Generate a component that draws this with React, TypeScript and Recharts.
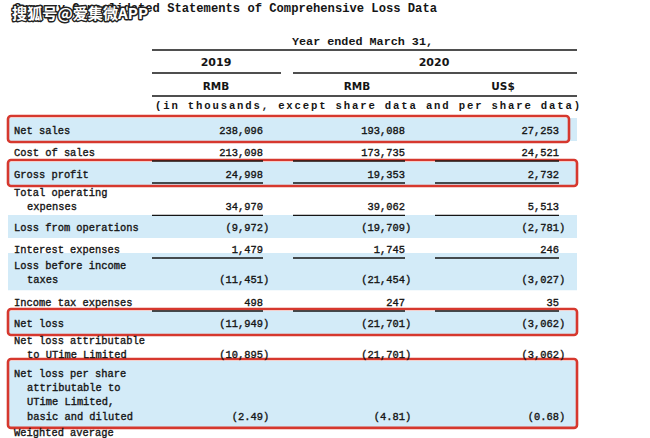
import { ScatterChart, XAxis, YAxis, Scatter, ReferenceArea, ReferenceLine } from 'recharts';

// ---- table content ----
const title = 'Summary Consolidated Statements of Comprehensive Loss Data';
const watermark = '搜狐号@爱集微APP';
const periodLabel = 'Year ended March 31,';
const years = ['2019', '2020'];
const currencies = ['RMB', 'RMB', 'US$'];
const unitNote = '(in thousands, except share data and per share data)';

const rowLabels: string[][] = [
	['Net sales'],
	['Cost of sales'],
	['Gross profit'],
	['Total operating', 'expenses'],
	['Loss from operations'],
	['Interest expenses'],
	['Loss before income', 'taxes'],
	['Income tax expenses'],
	['Net loss'],
	['Net loss attributable', 'to UTime Limited'],
	['Net loss per share', 'attributable to', 'UTime Limited,', 'basic and diluted'],
	['Weighted average'],
];
const rmb2019 = [238096, 213098, 24998, 34970, -9972, 1479, -11451, 498, -11949, -10895, -2.49, null];
const rmb2020 = [193088, 173735, 19353, 39062, -19709, 1745, -21454, 247, -21701, -21701, -4.81, null];
const usd2020 = [27253, 24521, 2732, 5513, -2781, 246, -3027, 35, -3062, -3062, -0.68, null];

const shadedRows = [0, 2, 4, 6, 8, 10];
const boxedRows = [0, 2, 8, 10];
const underlinedRows = [1, 2, 3, 5, 7];

// ---- layout (chart units = picture pixels) ----
const W = 650;
const H = 438;
const rowFirstLine = [130, 152, 174, 192, 227, 249, 265, 302, 323, 340, 373, 432];
const lineGap = 14.3;
const labelX = 14;
const indent = 13;
const colRight = [263, 405, 559];
const colLeft = [152, 293, 435];
const yearCenter = [216, 434];
const currencyCenter = [216, 357, 503];
const tableLeft = 8;
const tableRight = 577;
const boxRight = [569, 577, 577, 577];

const BLUE = '#d3ebf8';
const RED = '#d6382e';
const INK = '#151515';
const MONO = '"Liberation Mono", "DejaVu Sans Mono", monospace';

const fmt = (v: number) => {
	const abs = Math.abs(v);
	const s = Number.isInteger(abs)
		? abs.toLocaleString('en-US')
		: abs.toFixed(2);
	return v < 0 ? `(${s}` : s;
};

const lastLine = (i: number) => rowFirstLine[i] + (rowLabels[i].length - 1) * lineGap;

type TextItem = { x: number; y: number; text: string; kind: string };

const headerItems: TextItem[] = [
	{ x: labelX, y: 8, text: title, kind: 'title' },
	{ x: 292, y: 41, text: periodLabel, kind: 'period' },
	...years.map((t, i) => ({ x: yearCenter[i], y: 62, text: t, kind: 'year' })),
	...currencies.map((t, i) => ({ x: currencyCenter[i], y: 86, text: t, kind: 'currency' })),
	{ x: 155, y: 105, text: unitNote, kind: 'note' },
];

const labelItems: TextItem[] = rowLabels.flatMap((lines, i) =>
	lines.map((t, j) => ({
		x: labelX + (j > 0 ? indent : 0),
		y: rowFirstLine[i] + j * lineGap,
		text: t,
		kind: 'label',
	})),
);

const valueItems: TextItem[] = [rmb2019, rmb2020, usd2020].flatMap((col, c) =>
	col
		.map((v, i) => (v === null ? null : { x: colRight[c], y: lastLine(i), text: fmt(v), kind: 'value' }))
		.filter((d): d is TextItem => d !== null),
);

const watermarkItems: TextItem[] = [{ x: 12, y: 14, text: watermark, kind: 'watermark' }];

const TextShape = (props: any) => {
	const { cx, cy, payload } = props;
	const d: TextItem = payload;
	const common = { x: cx, y: cy, dy: '0.35em', fill: INK };
	// the scanned text is a bit heavier than Liberation Mono regular
	const heavy = { stroke: INK, strokeWidth: 0.35 };
	switch (d.kind) {
		case 'title':
			return <text {...common} fontFamily={MONO} fontSize={12} fontWeight={700} textLength={423} lengthAdjust="spacingAndGlyphs">{d.text}</text>;
		case 'period':
			return <text {...common} fontFamily={MONO} fontSize={11.5} fontWeight={700} textLength={141} lengthAdjust="spacingAndGlyphs">{d.text}</text>;
		case 'year':
			return <text {...common} textAnchor="middle" fontFamily='"DejaVu Sans", sans-serif' fontSize={11} fontWeight={700}>{d.text}</text>;
		case 'currency':
			return <text {...common} textAnchor="middle" fontFamily='"DejaVu Sans", sans-serif' fontSize={10.5} fontWeight={700}>{d.text}</text>;
		case 'note':
			return <text {...common} fontFamily={MONO} fontSize={10.6} fontWeight={700} textLength={425} lengthAdjust="spacing">{d.text}</text>;
		case 'label':
			return <text {...common} {...heavy} fontFamily={MONO} fontSize={10.4}>{d.text}</text>;
		case 'value': {
			const neg = d.text.startsWith('(');
			return (
				<g>
					<text {...common} {...heavy} textAnchor="end" fontFamily={MONO} fontSize={10.4}>{d.text}</text>
					{neg && <text {...common} {...heavy} fontFamily={MONO} fontSize={10.4}>)</text>}
				</g>
			);
		}
		case 'watermark':
			return (
				<text {...common} fill="#ffffff" stroke="#222" strokeWidth={2.8} paintOrder="stroke" strokeLinejoin="round"
					fontFamily='"Noto Sans CJK SC", sans-serif' fontSize={15} fontWeight={700} textLength={136} lengthAdjust="spacingAndGlyphs">
					{d.text}
				</text>
			);
		default:
			return null;
	}
};

export default function App() {
	return (
		<div style={{ position: 'absolute', left: 0, top: 0, background: '#fff' }}>
			<ScatterChart width={W} height={H} margin={{ top: 0, right: 0, bottom: 0, left: 0 }}>
				<XAxis type="number" dataKey="x" domain={[0, W]} allowDataOverflow hide />
				<YAxis type="number" dataKey="y" domain={[0, H]} allowDataOverflow reversed hide />

				{shadedRows.map((i) => (
					<ReferenceArea key={`band-${i}`} x1={tableLeft} x2={tableRight} y1={rowFirstLine[i] - 12}
						y2={lastLine(i) + 11} fill={BLUE} fillOpacity={1} stroke="none" />
				))}

				<ReferenceLine segment={[{ x: colLeft[0], y: 50 }, { x: tableRight, y: 50 }]} stroke={INK} strokeWidth={1.3} />
				<ReferenceLine segment={[{ x: colLeft[0], y: 73 }, { x: 281, y: 73 }]} stroke={INK} strokeWidth={1.3} />
				<ReferenceLine segment={[{ x: colLeft[1], y: 73 }, { x: tableRight, y: 73 }]} stroke={INK} strokeWidth={1.3} />
				<ReferenceLine segment={[{ x: colLeft[0], y: 96 }, { x: tableRight, y: 96 }]} stroke={INK} strokeWidth={1.3} />
				{underlinedRows.flatMap((i) =>
					colLeft.map((x0, c) => (
						<ReferenceLine key={`ul-${i}-${c}`} segment={[{ x: x0, y: lastLine(i) + 9 }, { x: colRight[c], y: lastLine(i) + 9 }]}
							stroke={INK} strokeWidth={1.3} />
					)),
				)}

				<Scatter data={headerItems} shape={TextShape} isAnimationActive={false} legendType="none" />
				<Scatter data={labelItems} shape={TextShape} isAnimationActive={false} legendType="none" />
				<Scatter data={valueItems} shape={TextShape} isAnimationActive={false} legendType="none" />

				{boxedRows.map((i, k) => (
					<ReferenceArea key={`box-${i}`} x1={tableLeft} x2={boxRight[k]} y1={rowFirstLine[i] - 14}
						y2={lastLine(i) + 12} fill="none" fillOpacity={0} stroke={RED} strokeWidth={2.6} radius={3} />
				))}

				<Scatter data={watermarkItems} shape={TextShape} isAnimationActive={false} legendType="none" />
			</ScatterChart>
		</div>
	);
}
